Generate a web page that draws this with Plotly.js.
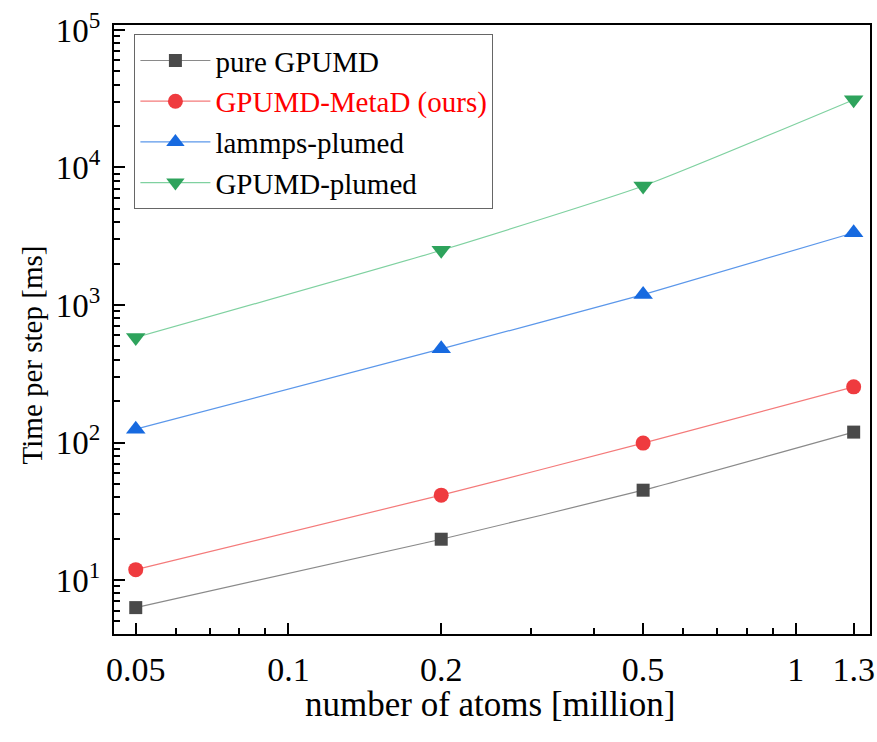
<!DOCTYPE html>
<html>
<head>
<meta charset="utf-8">
<script src="https://cdn.plot.ly/plotly-3.0.1.min.js"></script>
<style>html,body{margin:0;padding:0;background:#fff;}#chart{width:877px;height:742px;}</style>
</head>
<body>
<div id="chart"></div>
<script>
const atoms = [0.05, 0.2, 0.5, 1.3];
const pureGPUMD = [6.3, 19.8, 45, 119];
const gpumdMetaD = [11.9, 41.4, 99, 254];
const lammpsPlumed = [125, 480, 1190, 3350];
const gpumdPlumed = [580, 2500, 7330, 31100];

const seriesNames = ['pure GPUMD', '<span style="color:#ff0000">GPUMD-MetaD (ours)</span>', 'lammps-plumed', 'GPUMD-plumed'];
const xTickVals = [0.05, 0.1, 0.2, 0.5, 1, 1.3];
const xTickText = ['0.05', '0.1', '0.2', '0.5', '1', '1.3'];
const xMinorVals = [0.06, 0.07, 0.08, 0.09, 0.3, 0.4, 0.6, 0.7, 0.8, 0.9];
const yTickVals = [10, 100, 1000, 10000, 100000];
const yTickText = ['10<sup>1</sup>', '10<sup>2</sup>', '10<sup>3</sup>', '10<sup>4</sup>', '10<sup>5</sup>'];
const xTitle = 'number of atoms [million]';
const yTitle = 'Time per step [ms]';

function mk(y, name, lineColor, markerColor, symbol, size) {
  return {
    x: atoms, y: y, name: name, type: 'scatter', mode: 'lines+markers',
    line: {color: lineColor, width: 1.2, shape: 'spline', smoothing: 0.5},
    marker: {color: markerColor, symbol: symbol, size: size, line: {width: 0}}
  };
}

const data = [
  mk(pureGPUMD, seriesNames[0], '#8a8a8a', '#4a4a4a', 'square', 13),
  mk(gpumdMetaD, seriesNames[1], '#f47a7a', '#ef3b3f', 'circle', 15),
  mk(lammpsPlumed, seriesNames[2], '#5b97ea', '#176ae0', 'triangle-up', 17),
  mk(gpumdPlumed, seriesNames[3], '#7fd1a0', '#2ea35c', 'triangle-down', 17)
];

const font = {family: '"Liberation Serif", "Times New Roman", serif', color: '#000'};

const layout = {
  width: 877, height: 742,
  margin: {l: 114, r: 7, t: 25, b: 108},
  paper_bgcolor: '#fff', plot_bgcolor: '#fff',
  font: font,
  showlegend: true,
  legend: {
    x: 0.027, y: 0.985, xanchor: 'left', yanchor: 'top',
    bgcolor: '#fff', bordercolor: '#666', borderwidth: 1,
    font: {family: font.family, size: 29, color: '#000'},
    tracegroupgap: 0, itemwidth: 70
  },
  xaxis: {
    type: 'log',
    range: [Math.log10(0.0453), Math.log10(1.40)],
    tickmode: 'array', tickvals: xTickVals, ticktext: xTickText,
    ticks: 'inside', ticklen: 11, tickwidth: 2, tickcolor: '#000',
    minor: {tickmode: 'array', tickvals: xMinorVals, ticks: 'inside', ticklen: 6, tickwidth: 2, tickcolor: '#000'},
    showline: true, linewidth: 2, linecolor: '#000', mirror: true,
    showgrid: false, zeroline: false,
    tickfont: {family: font.family, size: 34, color: '#000'},
    ticklabelstandoff: 4
  },
  yaxis: {
    type: 'log',
    range: [Math.log10(4.05), 5.036],
    tickmode: 'array', tickvals: yTickVals, ticktext: yTickText,
    ticks: 'inside', ticklen: 11, tickwidth: 2, tickcolor: '#000',
    minor: {dtick: 'D1', ticks: 'inside', ticklen: 6, tickwidth: 2, tickcolor: '#000', showgrid: false},
    showline: true, linewidth: 2, linecolor: '#000', mirror: true,
    showgrid: false, zeroline: false,
    tickfont: {family: font.family, size: 33, color: '#000'},
    ticklabelstandoff: 5
  },
  annotations: [
    {text: xTitle, xref: 'paper', yref: 'paper', x: 0.497, y: -0.1155, xanchor: 'center', yanchor: 'middle',
     showarrow: false, font: {family: font.family, size: 35, color: '#000'}},
    {text: yTitle, xref: 'paper', yref: 'paper', x: -0.108, y: 0.458, xanchor: 'center', yanchor: 'middle',
     textangle: -90, showarrow: false, font: {family: font.family, size: 29, color: '#000'}}
  ]
};

Plotly.newPlot('chart', data, layout, {displayModeBar: false, staticPlot: true});
</script>
</body>
</html>
